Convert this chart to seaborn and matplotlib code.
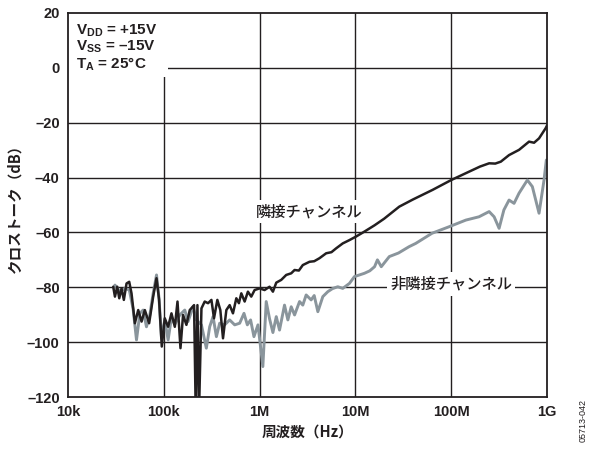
import numpy as np
import pandas as pd
import matplotlib
matplotlib.use("Agg")
import matplotlib.pyplot as plt
import matplotlib.patches as mpatches
import seaborn as sns

# ---- data (log10 of frequency in Hz, crosstalk in dB) ----
adj_logf = [4.472, 4.49, 4.514, 4.535, 4.559, 4.583, 4.611, 4.639, 4.663, 4.698,
            4.733, 4.768, 4.802, 4.847, 4.889, 4.924, 4.951, 4.979, 5.01, 5.045,
            5.08, 5.115, 5.143, 5.174, 5.201, 5.236, 5.271, 5.316, 5.333, 5.351,
            5.368, 5.393, 5.427, 5.462, 5.497, 5.524, 5.559, 5.59, 5.618, 5.653,
            5.6875, 5.722, 5.757, 5.784, 5.809, 5.844, 5.878, 5.913, 5.948, 6.0,
            6.052, 6.104, 6.139, 6.174, 6.226, 6.278, 6.33, 6.365, 6.41, 6.451,
            6.521, 6.57, 6.625, 6.695, 6.75, 6.799, 6.868, 6.9375, 7.007, 7.094,
            7.2, 7.3, 7.458, 7.6, 7.805, 8.0, 8.153, 8.3, 8.396, 8.46, 8.518,
            8.604, 8.708, 8.8125, 8.865, 8.917, 8.986, 9.0]
adj_db = [-79.8, -83.4, -79.8, -84.0, -80.4, -84.6, -78.6, -78.0, -82.2, -93.1,
          -88.3, -92.5, -88.3, -93.1, -83.4, -76.7, -84.6, -101.6, -91.3, -94.4,
          -89.5, -94.4, -85.2, -102.2, -90.1, -93.7, -88.3, -86.5, -125.0, -86.5,
          -125.0, -87.7, -85.2, -85.8, -84.6, -91.3, -84.6, -88.3, -98.6, -88.3,
          -86.5, -89.5, -84.0, -85.8, -82.2, -85.2, -81.6, -83.4, -81.0, -80.4,
          -81.0, -79.8, -81.6, -78.3, -77.3, -75.5, -74.9, -73.7, -73.9, -71.9,
          -70.7, -70.5, -69.4, -67.6, -67.2, -65.8, -64.0, -62.8, -61.5, -59.7,
          -57.4, -55.0, -50.6, -48.0, -44.5, -40.9, -38.4, -36.0, -34.8, -34.9, -34.2,
          -31.8, -29.9, -26.9, -27.3, -25.7, -22.0, -21.0]

nonadj_logf = [4.48, 4.49, 4.542, 4.594, 4.64, 4.68, 4.715, 4.75, 4.784, 4.819,
               4.854, 4.889, 4.924, 4.95, 4.976, 5.01, 5.045, 5.08, 5.115, 5.167,
               5.219, 5.253, 5.3056, 5.34, 5.393, 5.444, 5.479, 5.514, 5.549, 5.583,
               5.635, 5.6875, 5.74, 5.792, 5.837, 5.872, 5.906, 5.941, 5.983, 6.034,
               6.069, 6.104, 6.139, 6.174, 6.208, 6.26, 6.295, 6.33, 6.365, 6.417,
               6.451, 6.486, 6.538, 6.57, 6.608, 6.66, 6.712, 6.76, 6.816, 6.868,
               6.9375, 6.99, 7.042, 7.094, 7.15, 7.2, 7.23, 7.27, 7.354, 7.45,
               7.56, 7.63, 7.8, 7.98, 8.153, 8.29, 8.396, 8.448, 8.5, 8.55,
               8.604, 8.656, 8.708, 8.795, 8.847, 8.917, 8.969, 8.993]
nonadj_db = [-80.0, -79.2, -81.6, -80.4, -81.0, -88.0, -99.2, -89.5, -88.3, -94.4,
             -90.1, -82.2, -75.5, -84.0, -98.6, -91.9, -99.2, -91.0, -93.5, -90.1,
             -88.3, -92.5, -87.1, -91.9, -93.7, -102.2, -94.4, -90.7, -98.0, -93.1,
             -93.7, -91.9, -93.7, -93.1, -89.5, -93.7, -91.9, -98.0, -93.7, -108.9,
             -85.2, -91.5, -96.5, -90.7, -95.6, -86.5, -91.9, -87.1, -90.1, -85.2,
             -86.5, -82.8, -84.6, -83.0, -88.9, -83.4, -81.6, -80.5, -79.8, -80.4,
             -78.6, -76.1, -75.5, -74.9, -74.0, -72.5, -70.0, -72.5, -68.8, -67.5,
             -65.2, -64.0, -60.3, -57.9, -55.5, -54.3, -52.4, -54.3, -58.5, -51.8,
             -48.2, -49.4, -45.7, -40.9, -43.3, -53.0, -40.9, -33.6]

x_ticks = [1e4, 1e5, 1e6, 1e7, 1e8, 1e9]
x_ticklabels = ["10k", "100k", "1M", "10M", "100M", "1G"]
y_ticks = [20, 0, -20, -40, -60, -80, -100, -120]
y_ticklabels = ["20", "0", "\u201320", "\u201340", "\u201360", "\u201380", "\u2013100", "\u2013120"]

df_adj = pd.DataFrame({"f": np.power(10.0, adj_logf), "db": adj_db})
df_non = pd.DataFrame({"f": np.power(10.0, nonadj_logf), "db": nonadj_db})

sns.set_theme(style="white")
plt.rcParams["font.family"] = ["Liberation Sans", "Noto Sans CJK JP", "DejaVu Sans"]
plt.rcParams["mathtext.fontset"] = "custom"
plt.rcParams["mathtext.rm"] = "Liberation Sans"
plt.rcParams["mathtext.bf"] = "Liberation Sans:bold"
plt.rcParams["mathtext.it"] = "Liberation Sans:italic"

fig = plt.figure(figsize=(5.94, 4.5), dpi=100)
ax = fig.add_axes([68 / 594, 53 / 450, 479 / 594, 384 / 450])

ax.set_xscale("log")
ax.set_xlim(1e4, 1e9)
ax.set_ylim(-120, 20)

ink = "#231f20"
cjk = ["Noto Sans CJK JP", "DejaVu Sans"]

# grid
for xv in x_ticks[1:-1]:
    ax.axvline(xv, color=ink, lw=1.0, zorder=1)
for yv in y_ticks[1:-1]:
    ax.axhline(yv, color=ink, lw=1.0, zorder=1)

sns.lineplot(data=df_non, x="f", y="db", ax=ax, color="#8a959c", lw=2.1,
             estimator=None, sort=False, zorder=3)
sns.lineplot(data=df_adj, x="f", y="db", ax=ax, color=ink, lw=1.8,
             estimator=None, sort=False, zorder=4)
for ln in ax.lines:
    ln.set_solid_joinstyle("round")

ax.set_xticks(x_ticks)
ax.set_xticklabels(x_ticklabels)
ax.minorticks_off()
ax.set_yticks(y_ticks)
ax.set_yticklabels(y_ticklabels)
ax.tick_params(axis="both", length=0, pad=6, labelsize=10.5, colors=ink)
for lab in ax.get_xticklabels() + ax.get_yticklabels():
    lab.set_fontweight("bold")

for s in ax.spines.values():
    s.set_color(ink)
    s.set_linewidth(1.3)
    s.set_visible(True)
    s.set_zorder(8)

ax.set_xlabel("周波数（Hz）", fontsize=10.5, fontweight="bold", color=ink,
              family=cjk, labelpad=3)
ax.set_ylabel("クロストーク（dB）", fontsize=10.5, fontweight="bold", color=ink,
              family=cjk, labelpad=3)

# condition box (white backing that hides the grid)
ax.add_patch(mpatches.Rectangle((0.0, 0.833), 0.209, 0.167, transform=ax.transAxes,
                                facecolor="white", edgecolor="none", zorder=5))
ax.text(0.016, 0.975,
        "$\\mathbf{V_{DD}}$ = +15V\n$\\mathbf{V_{SS}}$ = \u201315V\n$\\mathbf{T_A}$ = 25°C",
        transform=ax.transAxes, ha="left", va="top", fontsize=11, fontweight="bold",
        color=ink, linespacing=1.0, zorder=6)

# series labels
ax.text(10 ** 6.52, -52.5, "隣接チャンネル", ha="center", va="center", fontsize=11,
        fontweight="medium", color=ink, family=cjk,
        zorder=6, bbox=dict(boxstyle="square,pad=0.2", fc="white", ec="none"))
ax.text(10 ** 8.0, -78.8, "非隣接チャンネル", ha="center", va="center", fontsize=11,
        fontweight="medium", color=ink, family=cjk,
        zorder=6, bbox=dict(boxstyle="square,pad=0.2", fc="white", ec="none"))

fig.text(583 / 594, 1 - 420 / 450, "05713-042", rotation=90, ha="center", va="center",
         fontsize=6.5, color=ink)

fig.savefig("out.png", dpi=100, facecolor="white")
